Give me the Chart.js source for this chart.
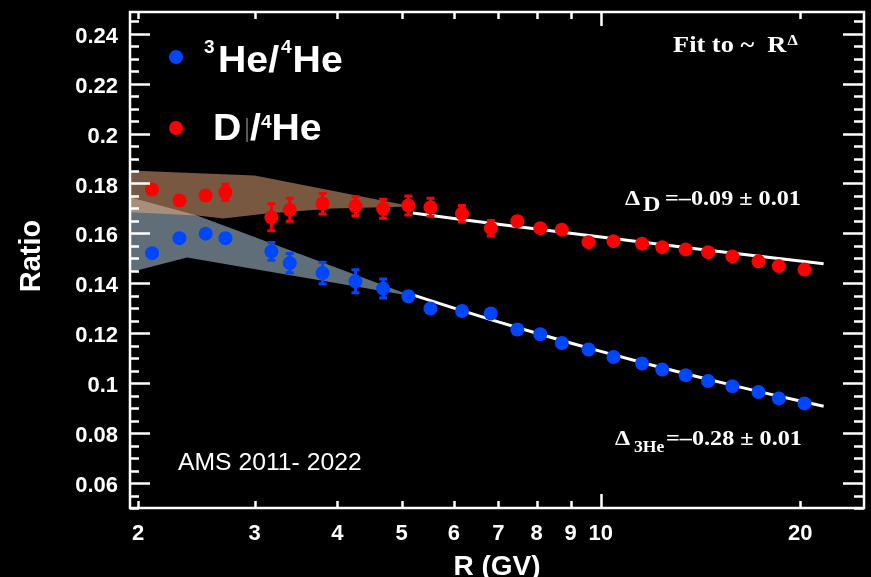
<!DOCTYPE html>
<html lang="en">
<head>
<meta charset="UTF-8">
<title>3He/4He and D/4He vs rigidity</title>
<script src="https://cdn.jsdelivr.net/npm/chart.js"></script>
<style>
  html, body { margin: 0; padding: 0; background: #000; }
  #wrap { width: 871px; height: 577px; }
</style>
</head>
<body>
<div id="wrap"><canvas id="ratioChart" width="871" height="577"></canvas></div>
<script>
// rigidity bin centres (GV)
var rigidity = [2.10, 2.31, 2.53, 2.71, 3.18, 3.39, 3.80, 4.26, 4.69, 5.12, 5.53, 6.17, 6.82,
                7.48, 8.10, 8.73, 9.58, 10.45, 11.54, 12.38, 13.43, 14.52, 15.80, 17.30, 18.57, 20.3];

var he3Ratio = [0.1521, 0.1581, 0.1599, 0.1581, 0.1528, 0.1481, 0.1441, 0.1408, 0.1379, 0.1348, 0.1299, 0.1289, 0.1279,
                0.1215, 0.1196, 0.1161, 0.1135, 0.1105, 0.1079, 0.1055, 0.1032, 0.1009, 0.0988, 0.0965, 0.0939, 0.0919];
var he3Err   = [0.0012, 0.0020, 0.0020, 0.0022, 0.0040, 0.0043, 0.0047, 0.0050, 0.0042, 0.0022, 0.0015, 0.0012, 0.0012,
                0.0010, 0.0010, 0.0010, 0.0010, 0.0010, 0.0010, 0.0010, 0.0010, 0.0010, 0.0010, 0.0010, 0.0010, 0.0010];

var dRatio = [0.1776, 0.1732, 0.1752, 0.1765, 0.1665, 0.1695, 0.1719, 0.1709, 0.1699, 0.1712, 0.1705, 0.1679, 0.1621,
              0.1649, 0.1621, 0.1615, 0.1565, 0.1569, 0.1559, 0.1545, 0.1536, 0.1525, 0.1508, 0.1488, 0.1469, 0.1455];
var dErr   = [0.0015, 0.0012, 0.0022, 0.0036, 0.0058, 0.0050, 0.0045, 0.0042, 0.0042, 0.0042, 0.0040, 0.0037, 0.0035,
              0.0020, 0.0015, 0.0015, 0.0012, 0.0012, 0.0010, 0.0010, 0.0010, 0.0010, 0.0010, 0.0010, 0.0010, 0.0010];

// model bands, outline going along the top edge then back along the bottom
var dBandR     = [1.945, 3.0, 5.2, 3.94, 3.13, 2.69, 2.455, 1.945];
var dBandRatio = [0.1852, 0.1832, 0.1708, 0.170, 0.168, 0.166, 0.1672, 0.1685];
var he3BandR     = [1.945, 2.455, 5.2, 2.372, 1.945];
var he3BandRatio = [0.1745, 0.1672, 0.1348, 0.1504, 0.1444];

// power-law fits ~ R^Delta, normalised at the pivot rigidity
var fitR = [5.2, 6, 7, 8, 9, 10, 12, 14, 16, 18, 20, 21.7];
var fitPivot = 10.6;
var deltaD = -0.09, delta3He = -0.28;
var fitNormD = 0.1577, fitNorm3He = 0.1109;

var xTicks = [2, 3, 4, 5, 6, 7, 8, 9, 10, 20];
var xTickLabels = ['2', '3', '4', '5', '6', '7', '8', '9', '10', '20'];
var yTicks = [0.06, 0.08, 0.1, 0.12, 0.14, 0.16, 0.18, 0.2, 0.22, 0.24];
var yTickLabels = ['0.06', '0.08', '0.1', '0.12', '0.14', '0.16', '0.18', '0.2', '0.22', '0.24'];

var RED = '#ff0000', BLUE = '#0046ff';
var SANS = "'Liberation Sans', Arial, sans-serif";
var SERIF = "'Liberation Serif', 'Times New Roman', serif";

function pts(xs, ys) {
    return xs.map(function (x, i) { return { x: x, y: ys[i] }; });
}
function powerLaw(norm, delta) {
    return fitR.map(function (r) { return { x: r, y: norm * Math.pow(r / fitPivot, delta) }; });
}

// error bars, frame with inward ticks, legend and labels
var decorations = {
    id: 'decorations',
    beforeDatasetDraw: function (chart, args) {
        var ds = chart.data.datasets[args.index];
        if (!ds.errors) return;
        var ctx = chart.ctx, xs = chart.scales.x, ys = chart.scales.y;
        ctx.save();
        ctx.strokeStyle = ds.backgroundColor;
        ctx.lineWidth = 3;
        ds.data.forEach(function (p, i) {
            var px = xs.getPixelForValue(p.x);
            var top = ys.getPixelForValue(p.y + ds.errors[i]);
            var bot = ys.getPixelForValue(p.y - ds.errors[i]);
            ctx.beginPath();
            ctx.moveTo(px, top); ctx.lineTo(px, bot);
            ctx.moveTo(px - 4, top + 1); ctx.lineTo(px + 4, top + 1);
            ctx.moveTo(px - 4, bot - 1); ctx.lineTo(px + 4, bot - 1);
            ctx.stroke();
        });
        ctx.restore();
    },
    afterDatasetsDraw: function (chart) {
        var ctx = chart.ctx, a = chart.chartArea, xs = chart.scales.x, ys = chart.scales.y;
        ctx.save();
        ctx.strokeStyle = '#fff';
        ctx.lineWidth = 2.5;
        ctx.strokeRect(a.left, a.top, a.right - a.left, a.bottom - a.top);
        ctx.beginPath();
        // y ticks every 0.005, long ones at the labelled values
        for (var k = 10; k <= 49; k++) {
            var py = Math.round(ys.getPixelForValue(k * 0.005)) + 0.5;
            var major = (k % 4 === 0);
            ctx.moveTo(a.left, py); ctx.lineTo(a.left + (major ? 20 : 9), py);
            ctx.moveTo(a.right, py); ctx.lineTo(a.right - (major ? 21 : 10), py);
        }
        xTicks.forEach(function (t) {
            var px = Math.round(xs.getPixelForValue(t)) + 0.5;
            var len = (t === 10) ? 14 : 7;
            ctx.moveTo(px, a.bottom); ctx.lineTo(px, a.bottom - len);
            ctx.moveTo(px, a.top); ctx.lineTo(px, a.top + len);
        });
        ctx.stroke();
        ctx.restore();
    },
    afterDraw: function (chart) {
        var ctx = chart.ctx;
        ctx.save();
        ctx.fillStyle = '#fff';
        ctx.textBaseline = 'alphabetic';
        // draws a string slightly widened, returns where it ends
        function t(str, x, y, font, sx) {
            sx = sx || 1;
            ctx.font = font;
            var w = ctx.measureText(str).width * sx;
            ctx.save();
            ctx.translate(x, y);
            ctx.scale(sx, 1);
            ctx.fillText(str, 0, 0);
            ctx.restore();
            return x + w;
        }

        // legend
        [[BLUE, 57], [RED, 128]].forEach(function (m) {
            ctx.fillStyle = m[0];
            ctx.beginPath(); ctx.arc(176, m[1], 7, 0, Math.PI * 2); ctx.fill();
        });
        ctx.fillStyle = '#fff';
        var big = 'bold 37px ' + SANS, sup = 'bold 19px ' + SANS;
        var x;
        t('3', 204, 53, sup);
        x = t('He/', 218, 72, big, 1.06);
        x = t('4', x + 2, 53, sup);
        t('He', x + 1, 72, big, 1.06);

        t('D', 213, 140, big, 1.06);
        ctx.fillStyle = 'rgba(255,255,255,0.35)';
        ctx.fillRect(246, 118, 2, 24);
        ctx.fillStyle = '#fff';
        x = t('/', 250, 140, big, 1.06);
        x = t('4', x, 128, sup);
        t('He', x, 140, big, 1.06);

        // fit annotations
        var ann = 'bold 22px ' + SERIF;
        x = t('Fit to ~  R', 673, 52, 'bold 24px ' + SERIF, 1.1);
        t('\u0394', x + 1, 45, 'bold 15px ' + SERIF, 1.1);

        t('\u0394', 625, 205, ann, 1.1);
        t('D', 643, 211, ann, 1.1);
        t('=\u20130.09 \u00b1 0.01', 665, 205, ann, 1.1);

        t('\u0394', 615, 445, ann, 1.1);
        t('3He', 634, 452, 'bold 16px ' + SERIF, 1.1);
        t('=\u20130.28 \u00b1 0.01', 666, 445, ann, 1.1);

        t('AMS 2011- 2022', 178, 470, '24px ' + SANS, 1.03);
        ctx.restore();
    }
};

var ctx = document.getElementById('ratioChart').getContext('2d');
var ratioChart = new Chart(ctx, {
    type: 'scatter',
    data: {
        datasets: [{
            label: '3He/4He band',
            data: pts(he3BandR, he3BandRatio),
            showLine: true,
            fill: 'shape',
            backgroundColor: 'rgba(190, 220, 240, 0.5)',
            borderColor: 'rgba(0, 0, 0, 0)',
            borderWidth: 0,
            pointRadius: 0,
            order: 10
        }, {
            label: 'D/4He band',
            data: pts(dBandR, dBandRatio),
            showLine: true,
            fill: 'shape',
            backgroundColor: 'rgba(240, 176, 128, 0.5)',
            borderColor: 'rgba(0, 0, 0, 0)',
            borderWidth: 0,
            pointRadius: 0,
            order: 9
        }, {
            label: '3He/4He fit',
            data: powerLaw(fitNorm3He, delta3He),
            showLine: true,
            borderColor: '#fff',
            borderWidth: 3,
            pointRadius: 0,
            order: 8
        }, {
            label: 'D/4He fit',
            data: powerLaw(fitNormD, deltaD),
            showLine: true,
            borderColor: '#fff',
            borderWidth: 3,
            pointRadius: 0,
            order: 7
        }, {
            label: '3He/4He',
            data: pts(rigidity, he3Ratio),
            errors: he3Err,
            backgroundColor: BLUE,
            borderWidth: 0,
            pointRadius: 7,
            order: 2
        }, {
            label: 'D/4He',
            data: pts(rigidity, dRatio),
            errors: dErr,
            backgroundColor: RED,
            borderWidth: 0,
            pointRadius: 7,
            order: 1
        }]
    },
    options: {
        responsive: false,
        animation: false,
        devicePixelRatio: 1,
        layout: { padding: { top: 12, right: 6, left: 0, bottom: 0 } },
        plugins: { legend: { display: false }, tooltip: { enabled: false } },
        scales: {
            x: {
                type: 'logarithmic',
                min: 1.945,
                max: 24.97,
                grid: { display: false, drawTicks: false },
                border: { display: false },
                afterBuildTicks: function (scale) {
                    scale.ticks = xTicks.map(function (v) { return { value: v }; });
                },
                afterFit: function (scale) {
                    scale.height = 69;
                    scale.paddingLeft = 0;
                    scale.paddingRight = 0;
                },
                ticks: {
                    color: '#fff',
                    padding: 13,
                    maxRotation: 0,
                    autoSkip: false,
                    font: { family: SANS, size: 22, weight: 'bold' },
                    callback: function (value, index) { return xTickLabels[index]; }
                },
                title: {
                    display: true,
                    text: 'R (GV)',
                    color: '#fff',
                    font: { family: SANS, size: 28, weight: 'bold' },
                    padding: { top: 0, bottom: -7 }
                }
            },
            y: {
                type: 'linear',
                min: 0.05,
                max: 0.2487,
                grid: { display: false, drawTicks: false },
                border: { display: false },
                afterBuildTicks: function (scale) {
                    scale.ticks = yTicks.map(function (v) { return { value: v }; });
                },
                afterFit: function (scale) {
                    scale.width = 130;
                    scale.paddingTop = 0;
                    scale.paddingBottom = 0;
                },
                ticks: {
                    color: '#fff',
                    padding: 12,
                    labelOffset: 3,
                    autoSkip: false,
                    font: { family: SANS, size: 22, weight: 'bold' },
                    callback: function (value, index) { return yTickLabels[index]; }
                },
                title: {
                    display: true,
                    text: ' Ratio',
                    color: '#fff',
                    font: { family: SANS, size: 29, weight: 'bold' },
                    padding: { top: 15, bottom: 0 }
                }
            }
        }
    },
    plugins: [decorations]
});
</script>
</body>
</html>
